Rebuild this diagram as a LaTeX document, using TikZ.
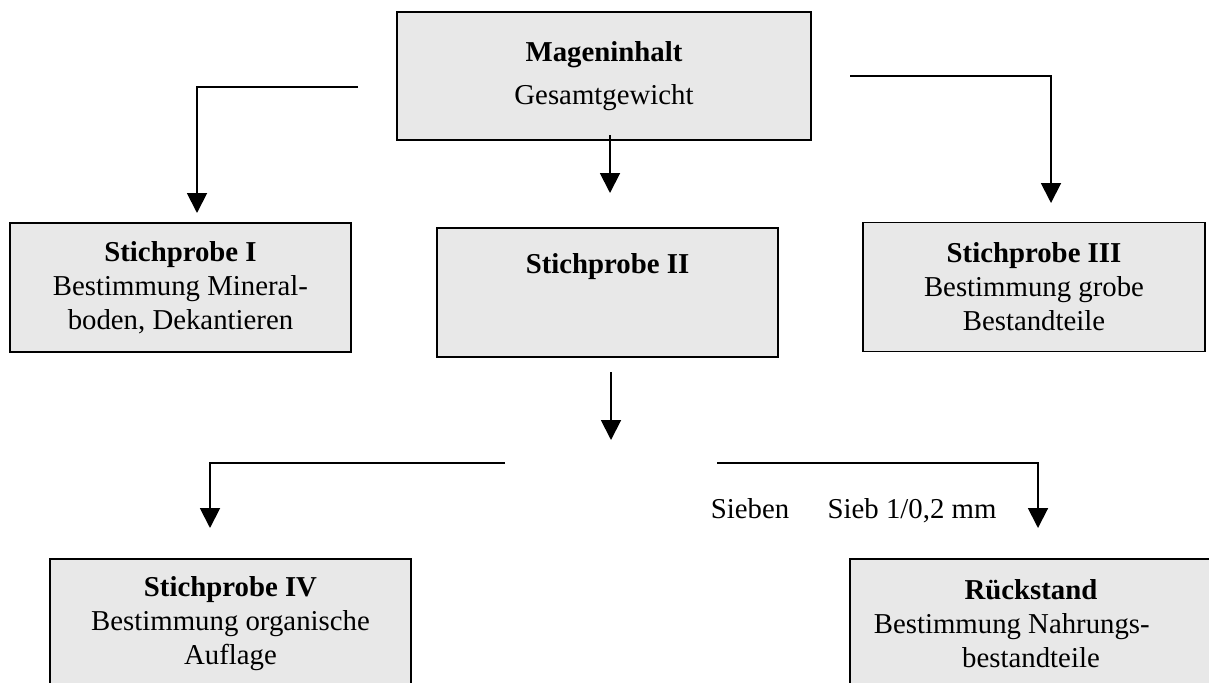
\documentclass[tikz,border=0pt]{standalone}
\usepackage{fontspec}
\setmainfont{Liberation Serif}
\usetikzlibrary{arrows.meta}

\definecolor{boxgray}{RGB}{232,232,232}

\begin{document}
\begin{tikzpicture}[x=0.4167pt, y=-0.4167pt, thick,
    >={Triangle[length=8.3pt, width=8.3pt]},
    txt/.style={font=\fontsize{12pt}{14.2pt}\selectfont},
    box/.style={txt, draw, fill=boxgray, line width=0.8pt, align=center,
        inner sep=0pt, minimum height=53.75pt},
    link/.style={->, line width=0.8pt}]
    \path[use as bounding box, clip] (0,0) rectangle (1209,682);

    \node[box, minimum width=172.5pt, minimum height=53.3pt] (inhalt) at (604,76)
        {\textbf{Mageninhalt}\\[4pt] Gesamtgewicht};
    \node[box, minimum width=142.1pt] (probeI) at (180.5,287.5)
        {\textbf{Stichprobe I}\\ Bestimmung Mineral-\\ boden, Dekantieren};
    \node[box, minimum width=142.1pt] (probeII) at (607.5,292.5)
        {\textbf{Stichprobe II}\\[6pt] \strut};
    \node[box, minimum width=142.5pt] (probeIII) at (1034,287)
        {\textbf{Stichprobe III}\\ Bestimmung grobe\\ Bestandteile};
    \node[box, minimum width=150.4pt] (probeIV) at (230.5,623.5)
        {\textbf{Stichprobe IV}\\ Bestimmung organische\\ Auflage};
    \node[box, minimum width=150.8pt] (rueck) at (1031,623.5)
        {\textbf{Rückstand}\\ Bestimmung Nahrungs-\kern16pt\\ bestandteile};

    \foreach \n/\src/\dst in {I/{358,87}/{197,213}, II/{610,135}/{610,193},
        III/{850,76}/{1051,203}, IV/{611,372}/{611,440},
        V/{505,463}/{210,528}, VI/{717,463}/{1038,528}} {
        \coordinate (a\n) at (\src);
        \coordinate (e\n) at (\dst);
        \draw[link] (a\n) -| (e\n);
    }

    \node[txt, anchor=base] (sieben) at (750,518) {Sieben};
    \node[txt, anchor=base] (sieb) at (912,518) {Sieb 1/0,2 mm};
\end{tikzpicture}
\end{document}
